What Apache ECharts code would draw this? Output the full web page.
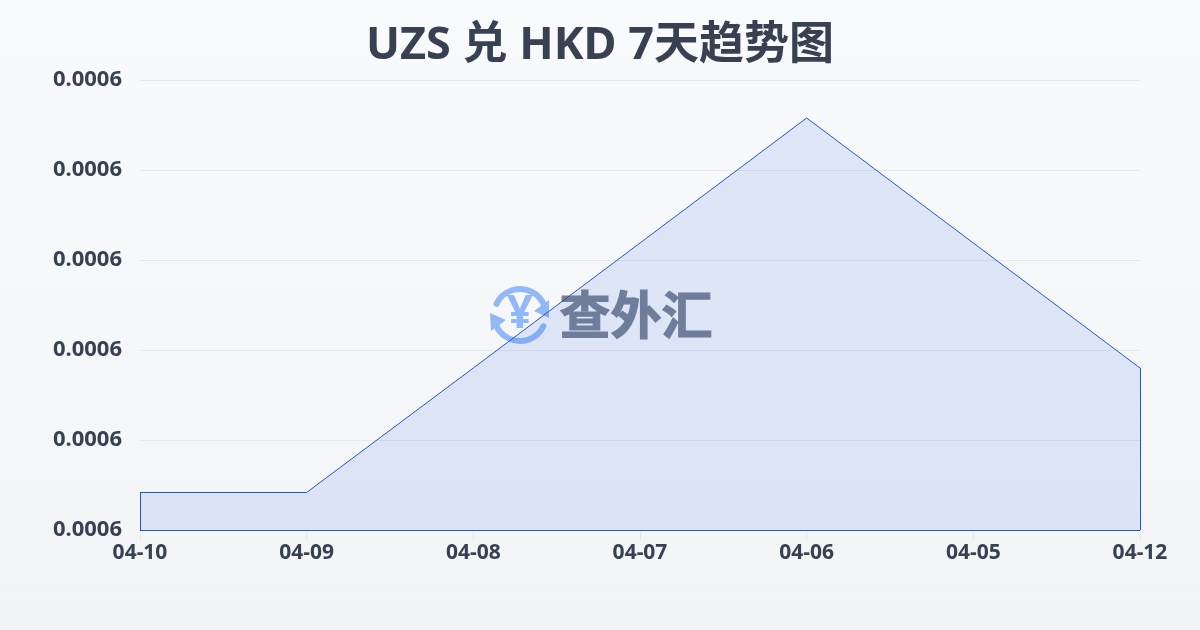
<!DOCTYPE html>
<html><head><meta charset="utf-8">
<style>html,body{margin:0;padding:0;background:#f9fafb}#c{width:1200px;height:630px}</style>
<script src="https://cdn.jsdelivr.net/npm/echarts@6/dist/echarts.min.js"></script>
</head><body><div id="c"></div>
<script>
const titleText = 'UZS 兑 HKD 7天趋势图';
const categories = ['04-10','04-09','04-08','04-07','04-06','04-05','04-12'];
const rates = [0.00056417,0.00056417,0.00057800,0.00059189,0.00060578,0.00059189,0.00057800];
const axisMin = 0.00056, axisMax = 0.00061, axisStep = 0.00001;
const ink = '#374151', lineBlue = '#1f57c3';
const font = '"Noto Sans","Noto Sans CJK SC",sans-serif';
const chart = echarts.init(document.getElementById('c'));
chart.setOption({
  animation:false,
  backgroundColor:{type:'linear',x:0,y:0,x2:0,y2:1,colorStops:[{offset:0,color:'#f9fafb'},{offset:1,color:'#f3f4f6'}]},
  title:{text:titleText,left:'center',top:19,textStyle:{fontFamily:font,fontSize:45,fontWeight:'bold',color:ink}},
  grid:{left:140,right:60,top:80,bottom:100},
  xAxis:{type:'category',boundaryGap:false,data:categories,
    axisLine:{show:false},
    axisTick:{show:true,length:10,lineStyle:{color:'#e5e7eb'}},
    axisLabel:{fontFamily:font,fontSize:21,fontWeight:'bold',color:ink,margin:13,hideOverlap:false,interval:0},
    splitLine:{show:false}},
  yAxis:{type:'value',min:axisMin,max:axisMax,interval:axisStep,
    axisLine:{show:false},axisTick:{show:false},
    axisLabel:{fontFamily:font,fontSize:22,fontWeight:'bold',color:ink,margin:18,formatter:v=>v.toFixed(4)},
    splitLine:{lineStyle:{color:'#e5e7eb',width:1}}},
  graphic:[
    {type:'group',left:490,top:286,z:-1,silent:true,children:[
      {type:'arc',shape:{cx:30,cy:29,r:26,startAngle:-2.7,endAngle:-0.35},style:{stroke:'#93b8f8',lineWidth:6,fill:null,lineCap:'round'}},
      {type:'arc',shape:{cx:30,cy:29,r:26,startAngle:0.45,endAngle:2.8},style:{stroke:'#93b8f8',lineWidth:6,fill:null,lineCap:'round'}},
      {type:'polygon',shape:{points:[[59,14],[59,32],[44,25]]},style:{fill:'#93b8f8'}},
      {type:'polygon',shape:{points:[[0,27],[16,34],[1,45]]},style:{fill:'#93b8f8'}},
      {type:'text',style:{text:'¥',x:30,y:29,align:'center',verticalAlign:'middle',font:'bold 46px "Noto Sans"',fill:'#93b8f8'}}
    ]},
    {type:'text',left:559,top:289,z:-1,silent:true,style:{text:'查外汇',font:'bold 51px "Noto Sans CJK SC"',fill:'#7a8292',stroke:'#7a8292',lineWidth:1.2}}
  ],
  series:[{type:'line',z:3,data:rates,symbol:'none',smooth:false,
    lineStyle:{color:lineBlue,width:1},
    areaStyle:{color:'rgba(30,90,225,0.16)',origin:'start'},
    markLine:{silent:true,symbol:'none',label:{show:false},animation:false,
      lineStyle:{color:lineBlue,width:1,type:'solid'},
      data:[
        [{coord:[categories[0],rates[0]]},{coord:[categories[0],axisMin]}],
        [{coord:[categories[0],axisMin]},{coord:[categories[6],axisMin]}],
        [{coord:[categories[6],axisMin]},{coord:[categories[6],rates[6]]}]
      ]}
  }]
});
</script></body></html>
